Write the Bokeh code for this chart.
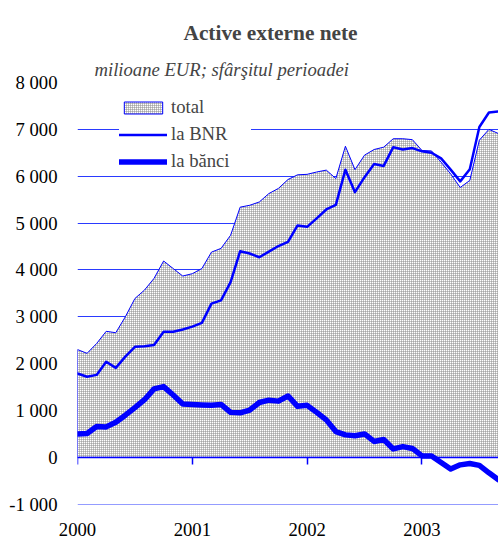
from bokeh.plotting import figure
from bokeh.models import (FixedTicker, LinearAxis, Legend, LegendItem, Range1d, Grid, Title)
from bokeh.embed import file_html
from bokeh.resources import INLINE

title_text = "Active externe nete"
subtitle_text = "milioane EUR; sfârşitul perioadei"

years = ["2000", "2001", "2002", "2003"]
months = [f"{y}-{m:02d}" for y in range(2000, 2004) for m in range(1, 13)][:45]

total = [2300, 2220, 2430, 2690, 2660, 3000, 3390, 3570, 3820, 4190,
         4030, 3870, 3920, 4030, 4380, 4460, 4740, 5340, 5380, 5450,
         5630, 5740, 5930, 6030, 6040, 6090, 6130, 5950, 6640, 6140,
         6450, 6570, 6620, 6800, 6800, 6780, 6550, 6540, 6300, 6050,
         5760, 5910, 6770, 7000, 6910]
bnr = [1790, 1720, 1760, 2040, 1910, 2150, 2360, 2370, 2400, 2680,
       2680, 2730, 2790, 2870, 3280, 3350, 3740, 4400, 4350, 4270,
       4390, 4510, 4600, 4950, 4920, 5100, 5290, 5390, 6140, 5660,
       5980, 6260, 6220, 6620, 6570, 6600, 6530, 6500, 6380, 6140,
       5890, 6150, 7050, 7360, 7380]
banci = [500, 510, 660, 650, 750, 900, 1060, 1230, 1460, 1510,
         1330, 1140, 1130, 1120, 1110, 1130, 960, 950, 1010, 1170,
         1220, 1200, 1310, 1090, 1110, 960, 800, 550, 480, 460,
         500, 340, 380, 180, 230, 190, 30, 30, -110, -250,
         -160, -130, -170, -330, -480]

y_ticks = [-1000, 0, 1000, 2000, 3000, 4000, 5000, 6000, 7000, 8000]
y_tick_labels = ["-1 000", "0", "1 000", "2 000", "3 000", "4 000",
                 "5 000", "6 000", "7 000", "8 000"]

series_names = ["total", "la BNR", "la bănci"]

FONT = "Liberation Serif"
BLUE = "#0000ff"
GRID = "#2a3aff"

x = list(range(len(months)))
year_pos = [months.index(f"{y}-01") for y in years]

p = figure(width=498, height=538, output_backend="svg", toolbar_location=None,
           x_range=Range1d(0, len(months) - 1), y_range=Range1d(-1006, 8000),
           x_axis_type=None, y_axis_type=None,
           min_border_left=77, min_border_right=0, min_border_top=82,
           min_border_bottom=33)
p.outline_line_color = None
p.background_fill_color = "white"

# titles (main title outermost, subtitle next to the plot)
p.title.text = title_text
p.title.text_font = FONT
p.title.text_font_size = "16pt"
p.title.text_font_style = "bold"
p.title.align = "left"
p.title.offset = 106
p.title.standoff = 18
p.add_layout(Title(text=subtitle_text, text_font=FONT, text_font_size="14pt",
                   text_font_style="italic", align="left", offset=17,
                   standoff=6), "above")

# grid
p.add_layout(Grid(dimension=1, ticker=FixedTicker(ticks=y_ticks),
                  grid_line_color=GRID, grid_line_width=1))

# y axis
yaxis = LinearAxis(ticker=FixedTicker(ticks=y_ticks),
                   major_label_overrides=dict(zip(y_ticks, y_tick_labels)),
                   axis_line_color=None, major_tick_line_color=None,
                   minor_tick_line_color=None, major_label_standoff=14,
                   major_label_text_font=FONT, major_label_text_font_size="14pt",
                   major_label_text_color="black")
p.add_layout(yaxis, "left")

# x labels at bottom
xaxis = LinearAxis(ticker=FixedTicker(ticks=year_pos),
                   major_label_overrides=dict(zip(year_pos, years)),
                   axis_line_color=None, major_tick_line_color=None,
                   minor_tick_line_color=None, major_label_standoff=12,
                   major_label_text_font=FONT, major_label_text_font_size="14pt",
                   major_label_text_color="black")
p.add_layout(xaxis, "below")

# area
area = p.patch(x + [x[-1], x[0]], total + [0, 0], fill_color="white",
               hatch_pattern="+", hatch_color="#8a8a8a", hatch_scale=2,
               hatch_weight=1, line_color=BLUE, line_width=1)

# zero axis with ticks
zaxis = LinearAxis(fixed_location=0, ticker=FixedTicker(ticks=year_pos),
                   major_label_text_color=None, major_label_text_font_size="1px",
                   axis_line_color=BLUE, axis_line_width=1.5,
                   major_tick_line_color=BLUE, major_tick_line_width=1.5,
                   major_tick_out=7, major_tick_in=0,
                   minor_tick_line_color=None)
p.add_layout(zaxis, "below")

l_bnr = p.line(x, bnr, line_color=BLUE, line_width=2.5, line_join="round",
               line_cap="round")
l_banci = p.line(x, banci, line_color=BLUE, line_width=5.5, line_join="round",
                 line_cap="round")

legend = Legend(items=[LegendItem(label=series_names[0], renderers=[area]),
                       LegendItem(label=series_names[1], renderers=[l_bnr]),
                       LegendItem(label=series_names[2], renderers=[l_banci])],
                location=(42, 332), padding=8, spacing=5,
                glyph_width=48, glyph_height=15, label_height=15,
                label_standoff=4, label_width=80, label_text_font=FONT,
                label_text_font_size="14pt", border_line_color=None,
                background_fill_color="white", background_fill_alpha=1.0,
                margin=0)
p.add_layout(legend)

open("out.html", "w").write(file_html(p, INLINE))
